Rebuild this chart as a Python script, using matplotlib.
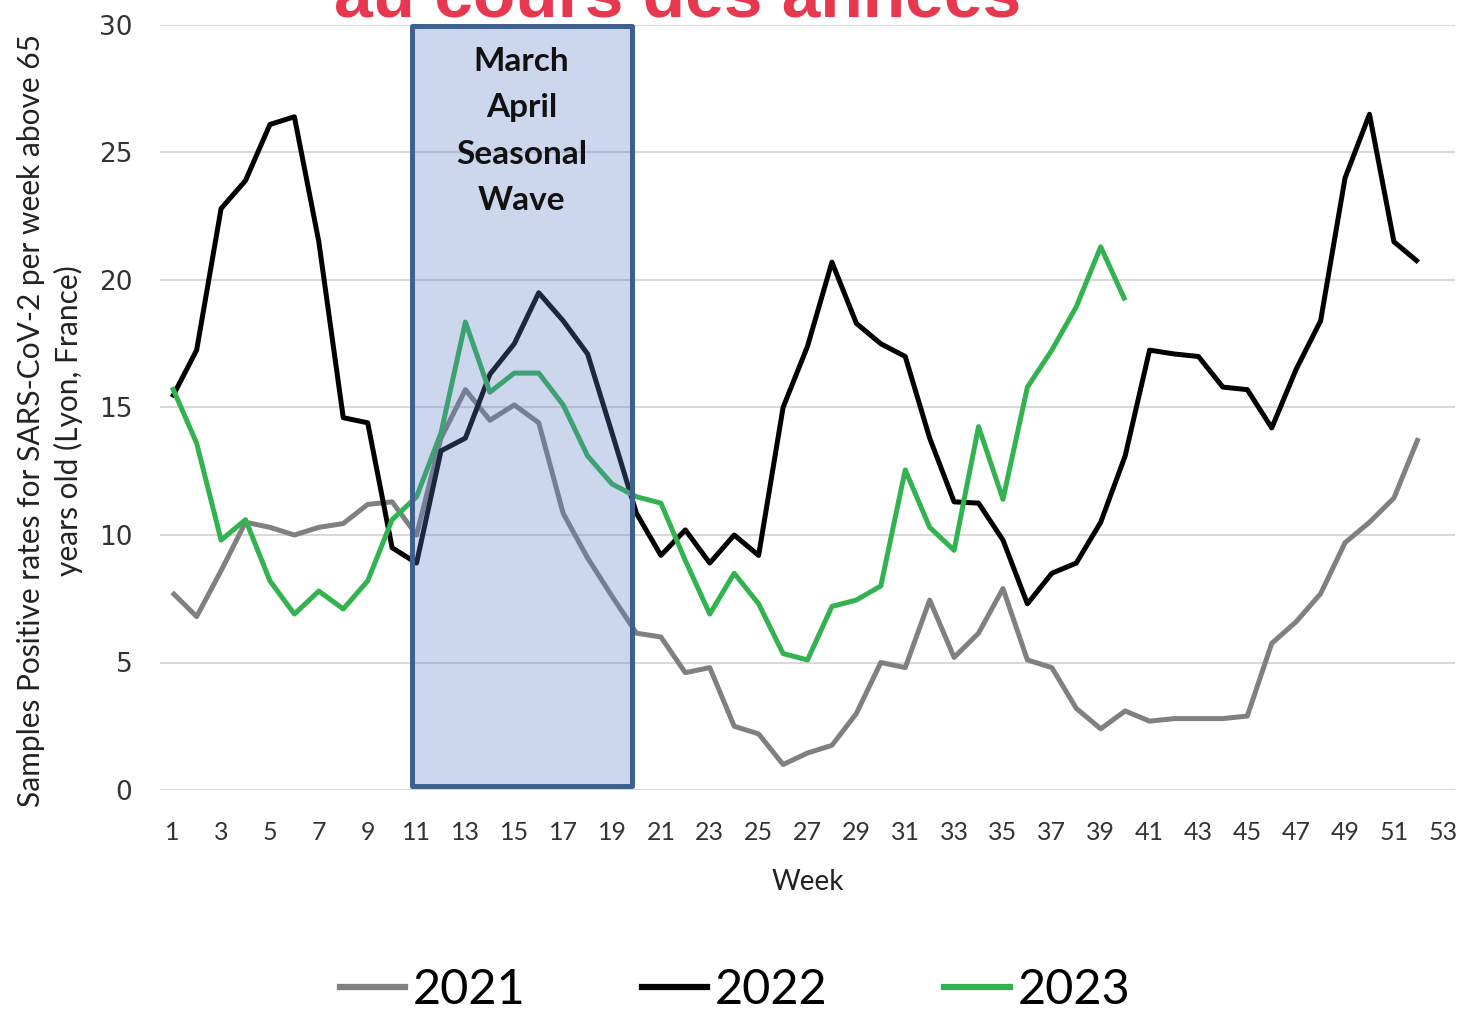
import matplotlib
matplotlib.use('Agg')
import matplotlib.pyplot as plt
from matplotlib.patches import Rectangle
from matplotlib.lines import Line2D

# ---------------- data ----------------
weeks_2021 = list(range(1, 53))
rate_2021 = [7.75, 6.8, 8.6, 10.5, 10.3, 10.0, 10.3, 10.45, 11.2, 11.3,
             10.0, 13.8, 15.7, 14.5, 15.1, 14.4, 10.85, 9.1, 7.6, 6.15,
             6.0, 4.6, 4.8, 2.5, 2.2, 1.0, 1.45, 1.75, 3.0, 5.0,
             4.8, 7.45, 5.2, 6.15, 7.9, 5.1, 4.8, 3.2, 2.4, 3.1,
             2.7, 2.8, 2.8, 2.8, 2.9, 5.75, 6.6, 7.7, 9.7, 10.5,
             11.45, 13.8]

weeks_2022 = list(range(1, 53))
rate_2022 = [15.4, 17.25, 22.8, 23.9, 26.1, 26.4, 21.5, 14.6, 14.4, 9.5,
             8.9, 13.3, 13.8, 16.3, 17.5, 19.5, 18.4, 17.1, 14.0, 10.85,
             9.2, 10.2, 8.9, 10.0, 9.2, 15.0, 17.4, 20.7, 18.3, 17.5,
             17.0, 13.8, 11.3, 11.25, 9.8, 7.3, 8.5, 8.9, 10.5, 13.1,
             17.25, 17.1, 17.0, 15.8, 15.7, 14.2, 16.5, 18.4, 24.0, 26.5,
             21.5, 20.7]

weeks_2023 = list(range(1, 41))
rate_2023 = [15.8, 13.6, 9.8, 10.6, 8.2, 6.9, 7.8, 7.1, 8.2, 10.6,
             11.5, 14.0, 18.35, 15.6, 16.35, 16.35, 15.1, 13.1, 12.0, 11.5,
             11.25, 9.0, 6.9, 8.5, 7.3, 5.35, 5.1, 7.2, 7.45, 8.0,
             12.55, 10.3, 9.4, 14.25, 11.4, 15.8, 17.25, 18.95, 21.3, 19.2]

series_labels = ['2021', '2022', '2023']
series_colors = ['#808080', '#000000', '#32b34f']

x_ticks = list(range(1, 54, 2))
y_ticks = [0, 5, 10, 15, 20, 25, 30]

wave_start, wave_end = 10.8, 19.8
wave_text = 'March\nApril\nSeasonal\nWave'

title_text = 'au cours des années'
x_label = 'Week'
y_label = 'Samples Positive rates for SARS-CoV-2 per week above 65\nyears old (Lyon, France)'

# ---------------- figure ----------------
W, H = 1463, 1011
fig = plt.figure(figsize=(W / 100, H / 100), dpi=100)
ax = fig.add_axes([160 / W, 1 - 790 / H, 1295 / W, 765 / H])

for xs, ys, c in zip([weeks_2021, weeks_2022, weeks_2023],
                     [rate_2021, rate_2022, rate_2023], series_colors):
    ax.plot(xs, ys, color=c, lw=3.6, solid_joinstyle='round',
            solid_capstyle='butt', zorder=3)

ax.set_xlim(0.5, 53.5)
ax.set_ylim(0, 30)
ax.set_xticks(x_ticks)
ax.set_yticks(y_ticks)
ax.grid(axis='y', color='#d9d9d9', lw=1.5)
ax.set_axisbelow(True)
for s in ax.spines.values():
    s.set_visible(False)
ax.tick_params(axis='both', length=0)
ax.tick_params(axis='x', pad=22, labelsize=18, labelcolor='#333333')
ax.tick_params(axis='y', pad=20, labelsize=19, labelcolor='#333333')
for lab in ax.get_xticklabels():
    lab.set_fontfamily('Lato')
for lab in ax.get_yticklabels():
    lab.set_fontfamily('DejaVu Sans')

# shaded seasonal wave box (drawn over lines, translucent)
rect = Rectangle((wave_start, 0.15), wave_end - wave_start, 29.8,
                 facecolor=(91 / 255, 124 / 255, 196 / 255, 0.31),
                 edgecolor='#3f5f8f', lw=3.6, joinstyle='round',
                 zorder=4, clip_on=False)
ax.add_patch(rect)
ax.text((wave_start + wave_end) / 2, 29.13, wave_text, ha='center', va='top',
        fontsize=24, fontweight='bold', family='Lato', color='#111111',
        linespacing=1.72, multialignment='center', zorder=5)

# axis labels
ax.set_xlabel(x_label, fontsize=20, family='Lato', color='#222222')
ax.xaxis.set_label_coords((808 - 160) / 1295, (790 - 882) / 765)
ax.xaxis.label.set_verticalalignment('center')
ax.set_ylabel(y_label, fontsize=21.5, family='Lato', color='#222222',
              linespacing=1.35, multialignment='center')
ax.yaxis.set_label_coords((50 - 160) / 1295, (790 - 421) / 765)
ax.yaxis.label.set_verticalalignment('center')

# clipped title at top (cut off in the reference as well)
fig.text(678 / W, 1 - 17 / H, title_text, ha='center', va='baseline',
         fontsize=50, fontweight='bold', color='#e8384f',
         family='Liberation Sans')

# legend
handles = [Line2D([0], [0], color=c, lw=4.5) for c in series_colors]
fig.legend(handles, series_labels, loc='center',
           bbox_to_anchor=(735 / W, 1 - 990 / H), ncol=3, frameon=False,
           prop={'family': 'Lato', 'size': 35}, handlelength=1.34,
           handletextpad=0.16, columnspacing=2.4, borderpad=0)

fig.savefig('out.png', dpi=100)
